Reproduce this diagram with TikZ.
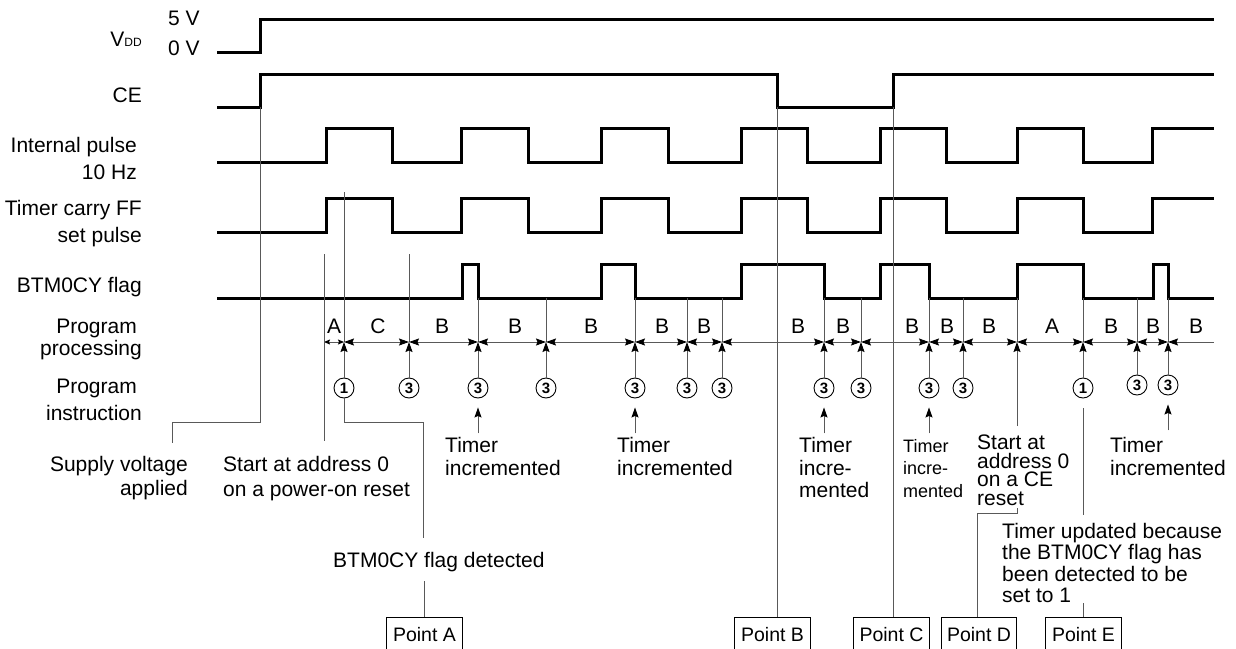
\documentclass[tikz,border=0pt]{standalone}
\usepackage{fontspec}
\setmainfont{Liberation Sans}
\usetikzlibrary{arrows.meta,calc}
\tikzset{
  hd/.tip={Stealth[length=10pt,width=7pt,inset=1.5pt,color=black]},
  hds/.tip={Stealth[length=6pt,width=5pt,inset=1pt,color=black]},
  wavepath/.style={line width=3pt,line join=miter},
  conline/.style={line width=1pt,draw=black!65},
  rowarr/.style={conline,{hd}-{hd}},
  uparr/.style={conline,-{hd}},
  numcirc/.style={circle,draw=black,line width=0.9pt,minimum size=20pt,inner sep=0pt,font=\fontsize{15}{15}\selectfont\bfseries},
  txt/.style={inner sep=0pt,font=\fontsize{21}{24}\selectfont},
  ptbox/.style={draw=black,line width=1pt,anchor=north west,minimum height=34pt,minimum width=76pt,inner xsep=3pt,inner ysep=0pt,font=\fontsize{19.5}{20}\selectfont}
}
\begin{document}
\begin{tikzpicture}[x=1pt,y=-1pt]
\useasboundingbox (0,0) rectangle (1236,648);
\clip (0,0) rectangle (1236,648);

% ---- left labels
\node[txt,anchor=west] (v5) at (168,18) {5 V};
\node[txt,anchor=west] (v0) at (168,48) {0 V};
\node[txt,anchor=base east] (vdd) at (142,46.5) {V{\fontsize{12}{12}\selectfont DD}};
\node[txt,anchor=east] (lce) at (142,95) {CE};
\node[txt,anchor=east] (lip1) at (137,147) {Internal pulse};
\node[txt,anchor=east] (lip2) at (137,172) {10 Hz};
\node[txt,anchor=east] (ltc1) at (142,210) {Timer carry FF};
\node[txt,anchor=east] (ltc2) at (142,237) {set pulse};
\node[txt,anchor=east] (lbf) at (142,287) {BTM0CY flag};
\node[txt,anchor=east] (lpp1) at (137,328) {Program};
\node[txt,anchor=east] (lpp2) at (142,350) {processing};
\node[txt,anchor=east] (lpi1) at (137,388) {Program};
\node[txt,anchor=east] (lpi2) at (142,413) {instruction};

% ---- waveforms
\draw[wavepath] (217,52) -- (260,52) -- (260,19) -- (1214,19);
\draw[wavepath] (217,107) -- (260,107) -- (260,74) -- (777,74) -- (777,107) -- (893,107) -- (893,74) -- (1214,74);
\draw[wavepath] (217,162) foreach \a/\b in {326/392,461/528,601/668,741/807,880/946,1017/1083} { -- (\a,162) -- (\a,128) -- (\b,128) -- (\b,162) } -- (1152,162) -- (1152,128) -- (1214,128);
\draw[wavepath] (217,232) foreach \a/\b in {326/392,461/528,601/668,741/807,880/946,1017/1083} { -- (\a,232) -- (\a,198) -- (\b,198) -- (\b,232) } -- (1152,232) -- (1152,198) -- (1214,198);
\draw[wavepath] (217,298) foreach \a/\b in {462/478,601/635,741/824,880/929,1017/1083,1153/1168} { -- (\a,298) -- (\a,264) -- (\b,264) -- (\b,298) } -- (1214,298);

% ---- coordinates
\coordinate (vrise) at (260,107);
\coordinate (cefall) at (777,107);
\coordinate (cerise) at (893,107);
\coordinate (fl) at (0,298);
\foreach \n/\x in {1/324,2/344,3/409,4/478,5/546,6/635,7/687,8/722,9/824,10/861,11/929,12/963,13/1017,14/1083,15/1137,16/1168,17/1214}
  \coordinate (t\n) at (\x,342);

% ---- tick lines
\foreach \k in {4,...,16} \draw[conline] (t\k |- fl) -- (t\k);
\draw[conline] (409,254) -- (t3);
\draw[conline] (344,192) -- (t2);

% ---- processing row
\draw[conline,{hds}-{hds}] (t1) -- (t2);
\foreach \a/\b in {2/3,3/4,4/5,5/6,6/7,7/8,8/9,9/10,10/11,11/12,12/13,13/14,14/15,15/16}
  \draw[rowarr] (t\a) -- (t\b);
\draw[conline,{hd}-] (t16) -- (t17);
\foreach \x/\l in {334/A,378/C,442/B,515/B,591/B,662/B,704/B,798/B,843/B,912/B,947/B,989/B,1052/A,1111/B,1153/B,1196/B}
  \node[txt] (pl\x) at (\x,326) {\l};

% ---- instruction circles
\foreach \k/\d/\o in {2/1/46,3/3/46,4/3/46,5/3/46,6/3/46,7/3/46,8/3/46,9/3/46,10/3/46,11/3/46,12/3/46,14/1/46,15/3/43,16/3/43}{
  \node[numcirc] (c\k) at ($(t\k)+(0,\o)$) {\d};
  \draw[uparr] (c\k) -- (t\k);
}
\foreach \k in {4,6,9,11,16}
  \draw[uparr] ($(c\k.south)+(0,35)$) -- ($(c\k.south)+(0,9)$);

% ---- bottom texts
\node[txt,anchor=north east,align=right] (sv) at (188,456.5) {Supply voltage\\applied};
\node[txt,anchor=north west,align=left,font=\fontsize{21}{24.5}\selectfont] (sa) at (223,456.5) {Start at address 0\\on a power-on reset};
\node[txt,anchor=west] (bf) at (333,562) {BTM0CY flag detected};
\node[txt,anchor=north west,align=left,font=\fontsize{21}{23}\selectfont] (ti1) at (445,437.5) {Timer\\incremented};
\node[txt,anchor=north west,align=left,font=\fontsize{21}{23}\selectfont] (ti2) at (617,437.5) {Timer\\incremented};
\node[txt,anchor=north west,align=left,font=\fontsize{21}{22.5}\selectfont] (ti3) at (799,437.5) {Timer\\incre-\\mented};
\node[txt,anchor=north west,align=left,font=\fontsize{18}{22.5}\selectfont] (ti4) at (903,439) {Timer\\incre-\\mented};
\node[txt,anchor=north west,align=left,font=\fontsize{21}{18.5}\selectfont] (sc) at (977,435) {Start at\\address 0\\on a CE\\reset};
\node[txt,anchor=north west,align=left,font=\fontsize{21}{23}\selectfont] (ti5) at (1110,437.5) {Timer\\incremented};
\node[txt,anchor=north west,align=left,font=\fontsize{21}{21.5}\selectfont] (tu) at (1002,523) {Timer updated because\\the BTM0CY flag has\\been detected to be\\set to 1};

% ---- point boxes
\node[ptbox] (pA) at (386,617) {Point A};
\node[ptbox] (pB) at (734,617) {Point B};
\node[ptbox] (pC) at (853,617) {Point C};
\node[ptbox,minimum width=75pt] (pD) at (941,617) {Point D};
\node[ptbox] (pE) at (1045,617) {Point E};

% ---- connectors
\draw[conline] (vrise) |- (172,422) -- (172,443);
\draw[conline] (324,254) -- (324,441);
\draw[conline] (c2.south) |- (423,422) -- (423,538);
\draw[conline] ($(pA.north)+(0,-36)$) -- (pA.north);
\draw[conline] (cefall) -- (cefall |- pB.north);
\draw[conline] (cerise) -- (cerise |- pC.north);
\draw[uparr] (1017,426) -- (t13);
\coordinate (dk) at (1017,508);
\draw[conline] (dk) -- ++(0,5) -| ($(pD.north)+(-2,0)$);
\draw[conline] ($(c14.south)+(0,10)$) -- ++(0,107);
\draw[conline] ($(pE.north)+(0,-14)$) -- (pE.north);
\end{tikzpicture}
\end{document}
